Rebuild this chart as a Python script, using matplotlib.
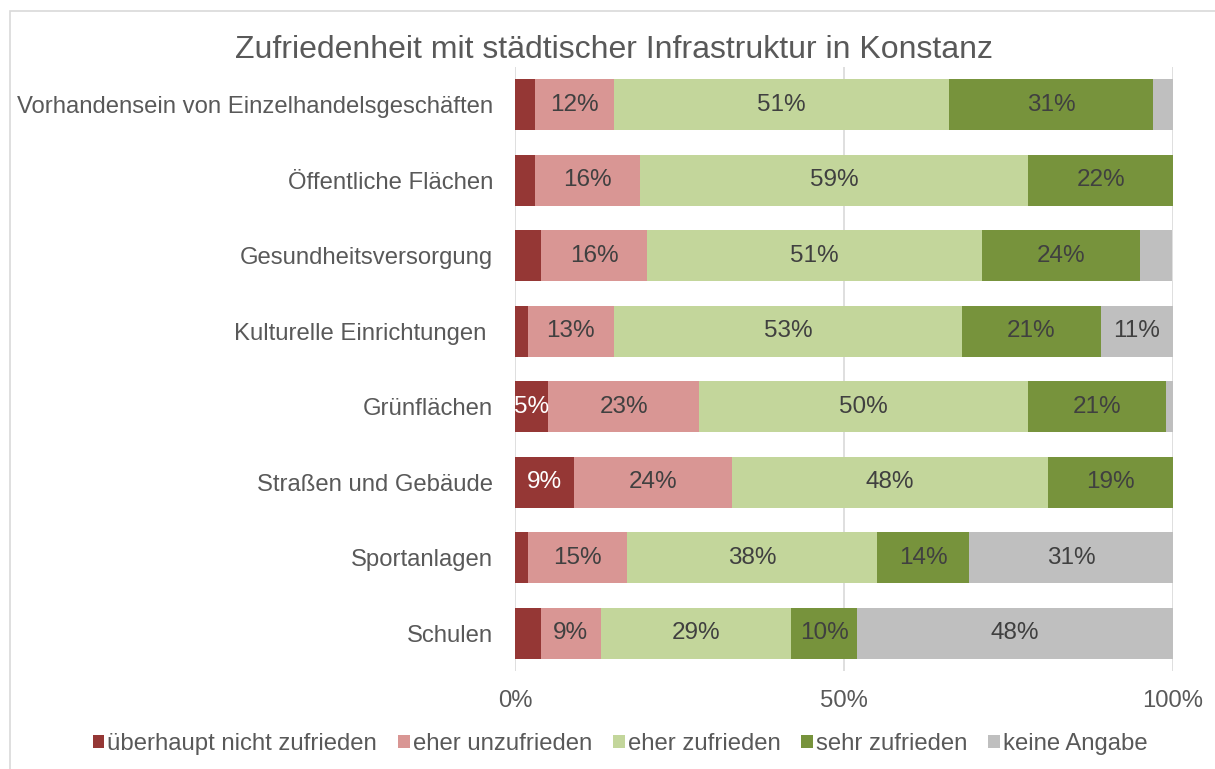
import matplotlib
matplotlib.use("Agg")
import matplotlib.pyplot as plt
import numpy as np
from matplotlib.patches import Rectangle

plt.rcParams['font.family'] = ['Liberation Sans', 'DejaVu Sans']

title = "Zufriedenheit mit städtischer Infrastruktur in Konstanz"
categories = [
    "Vorhandensein von Einzelhandelsgeschäften",
    "Öffentliche Flächen",
    "Gesundheitsversorgung",
    "Kulturelle Einrichtungen ",
    "Grünflächen",
    "Straßen und Gebäude",
    "Sportanlagen",
    "Schulen",
]
series_names = ["überhaupt nicht zufrieden", "eher unzufrieden", "eher zufrieden",
                "sehr zufrieden", "keine Angabe"]
ueberhaupt_nicht = [3, 3, 4, 2, 5, 9, 2, 4]
eher_unzufrieden = [12, 16, 16, 13, 23, 24, 15, 9]
eher_zufrieden = [51, 59, 51, 53, 50, 48, 38, 29]
sehr_zufrieden = [31, 22, 24, 21, 21, 19, 14, 10]
keine_angabe = [3, 0, 4.8, 11, 1, 0, 31, 48]
colors = ["#953735", "#D99694", "#C3D69B", "#77933C", "#BFBFBF"]
text_colors = ["white", "#404040", "#404040", "#404040", "#404040"]
xticks = [0, 50, 100]
xticklabels = ["0%", "50%", "100%"]

series = [ueberhaupt_nicht, eher_unzufrieden, eher_zufrieden, sehr_zufrieden, keine_angabe]

fig = plt.figure(figsize=(12.15, 7.69), dpi=100)
ax = fig.add_axes([515/1215, 1-671/769, (1173-515)/1215, (671-67)/769])

# outer border
fig.patches.append(Rectangle((10/1215, -0.1), 1.2, 1-11/769+0.1, transform=fig.transFigure,
                             fill=False, edgecolor="#D9D9D9", linewidth=1.2, zorder=0))

y = np.arange(len(categories))
left = np.zeros(len(categories))
for vals, col, tcol, name in zip(series, colors, text_colors, series_names):
    vals = np.array(vals, dtype=float)
    bars = ax.barh(y, vals, left=left, height=0.67, color=col, label=name, zorder=2)
    for b, v, l, yi in zip(bars, vals, left, y):
        if v >= 5:
            t = ax.text(l + v/2, yi, f"{int(round(v))}%", ha="center", va="center",
                        color=tcol, fontsize=17.5, zorder=3)
            t.set_clip_path(b)
    left += vals

ax.set_xlim(0, 100)
ax.set_ylim(len(categories)-0.5, -0.5)
ax.set_yticks(y)
ax.set_yticklabels(categories, fontsize=17.2, color="#595959")
ax.set_xticks(xticks)
ax.set_xticklabels(xticklabels, fontsize=17.2, color="#595959")
ax.tick_params(length=0)
ax.tick_params(axis='y', pad=15.8)
ax.tick_params(axis='x', pad=14)
for s in ax.spines.values():
    s.set_visible(False)
ax.grid(axis='x', color="#D9D9D9", linewidth=1.2, zorder=0)
ax.set_axisbelow(True)

fig.text(614/1215, 1-50/769, title, ha="center", va="center", fontsize=23, color="#595959")

handles, labels = ax.get_legend_handles_labels()
leg = fig.legend(handles, labels, loc="center", bbox_to_anchor=(620/1215, 1-744/769), ncol=5,
                 frameon=False, fontsize=17.2, handlelength=0.5, handleheight=0.5,
                 handletextpad=0.12, columnspacing=0.87, labelcolor="#595959")

fig.savefig("out.png", dpi=100)
